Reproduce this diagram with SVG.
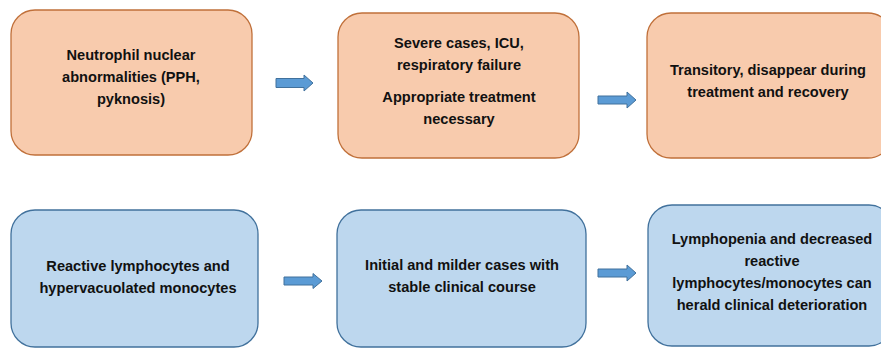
<svg xmlns="http://www.w3.org/2000/svg" width="881" height="348" viewBox="0 0 881 348">
<defs>
<style>
.o{fill:#F8CBAD;stroke:#C0703A;stroke-width:1.3}
.b{fill:#BDD7EE;stroke:#41719C;stroke-width:1.3}
.a{fill:#5B9BD5;stroke:#41719C;stroke-width:1}
text{font-family:"Liberation Sans",Arial,sans-serif;font-weight:bold;font-size:14.6px;fill:#111;text-anchor:middle}
</style>
</defs>
<rect width="881" height="348" fill="#fff"/>
<g id="n1">
<rect class="o" x="11" y="10" width="241" height="145" rx="24"/>
<text x="131" y="60">Neutrophil nuclear</text>
<text x="131" y="82">abnormalities (PPH,</text>
<text x="131" y="104">pyknosis)</text>
</g>
<g id="n2">
<rect class="o" x="338" y="13" width="241" height="145" rx="24"/>
<text x="459" y="48">Severe cases, ICU,</text>
<text x="459" y="70">respiratory failure</text>
<text x="459" y="102">Appropriate treatment</text>
<text x="459" y="124">necessary</text>
</g>
<g id="n3">
<rect class="o" x="647" y="13" width="245" height="145" rx="24"/>
<text x="768" y="75">Transitory, disappear during</text>
<text x="768" y="97">treatment and recovery</text>
</g>
<g id="n4">
<rect class="b" x="11" y="210" width="247" height="137" rx="24"/>
<text x="138" y="271">Reactive lymphocytes and</text>
<text x="138" y="293">hypervacuolated monocytes</text>
</g>
<g id="n5">
<rect class="b" x="337" y="210" width="249" height="137" rx="24"/>
<text x="462" y="270">Initial and milder cases with</text>
<text x="462" y="292">stable clinical course</text>
</g>
<g id="n6">
<rect class="b" x="648" y="205" width="245" height="141" rx="24"/>
<text x="772" y="244">Lymphopenia and decreased</text>
<text x="772" y="266">reactive</text>
<text x="772" y="288">lymphocytes/monocytes can</text>
<text x="772" y="310">herald clinical deterioration</text>
</g>
<g id="connectors">
<path class="a" d="M276,78.5 H304 V75 L313,83 L304,91 V87.5 H276 Z"/>
<path class="a" d="M598,96 H627 V92 L636,100 L627,108 V104 H598 Z"/>
<path class="a" d="M284,277 H313 V273.5 L322,281 L313,288.5 V285 H284 Z"/>
<path class="a" d="M598,269 H627 V265 L636,273 L627,281 V277 H598 Z"/>
</g>
</svg>
